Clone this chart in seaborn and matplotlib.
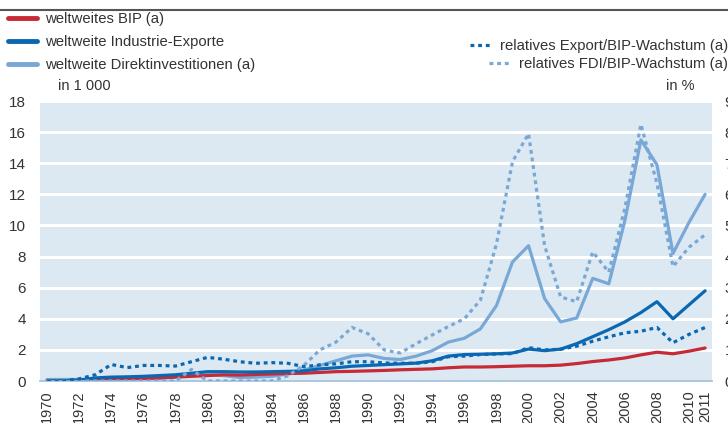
import numpy as np
import pandas as pd
import seaborn as sns
import matplotlib.pyplot as plt
from matplotlib.lines import Line2D

years = list(range(1970, 2012))

# left axis (in 1 000)
bip = [0.0, 0.02, 0.05, 0.1, 0.12, 0.13, 0.16, 0.2, 0.25, 0.3,
       0.35, 0.4, 0.38, 0.42, 0.45, 0.48, 0.5, 0.55, 0.6, 0.62,
       0.65, 0.68, 0.72, 0.75, 0.78, 0.85, 0.9, 0.9, 0.92, 0.95,
       0.98, 0.98, 1.02, 1.12, 1.25, 1.35, 1.48, 1.68, 1.85, 1.75,
       1.92, 2.12]
exporte = [0.0, 0.02, 0.05, 0.2, 0.25, 0.27, 0.3, 0.35, 0.4, 0.5,
           0.6, 0.6, 0.58, 0.58, 0.6, 0.62, 0.65, 0.78, 0.85, 0.95,
           1.0, 1.05, 1.1, 1.15, 1.3, 1.6, 1.7, 1.72, 1.75, 1.8,
           2.05, 1.95, 2.05, 2.4, 2.85, 3.3, 3.8, 4.4, 5.1, 4.0,
           4.9, 5.8]
fdi = [0.1, 0.1, 0.1, 0.12, 0.12, 0.15, 0.15, 0.18, 0.25, 0.38,
       0.4, 0.35, 0.22, 0.25, 0.3, 0.45, 0.7, 1.0, 1.3, 1.6,
       1.68, 1.45, 1.38, 1.6, 1.95, 2.5, 2.75, 3.35, 4.85, 7.65,
       8.7, 5.3, 3.8, 4.05, 6.6, 6.25, 10.3, 15.5, 13.9, 8.2,
       10.2, 12.0]

# right axis (in %)
export_ratio = [0.0, 0.0, 0.07, 0.2, 0.53, 0.43, 0.5, 0.5, 0.48, 0.62,
                0.76, 0.7, 0.62, 0.57, 0.59, 0.57, 0.46, 0.52, 0.55, 0.62,
                0.62, 0.58, 0.57, 0.57, 0.62, 0.78, 0.8, 0.85, 0.87, 0.88,
                1.07, 1.0, 1.02, 1.12, 1.28, 1.42, 1.55, 1.6, 1.72, 1.23,
                1.5, 1.72]
fdi_ratio = [0.0, 0.0, 0.0, 0.0, 0.0, 0.0, 0.0, 0.0, 0.0, 0.37,
             0.0, 0.0, 0.0, 0.0, 0.0, 0.17, 0.5, 1.0, 1.25, 1.72,
             1.52, 1.0, 0.9, 1.2, 1.48, 1.75, 2.0, 2.6, 4.4, 7.05,
             7.95, 4.35, 2.7, 2.55, 4.15, 3.5, 5.55, 8.25, 6.35, 3.68,
             4.3, 4.7]

tick_labels = [str(y) if (y % 2 == 0 or y == 2011) else '' for y in years]

RED = '#c62a35'
BLUE = '#0a68b2'
LIGHT = '#79a8d6'
BG = '#dde9f2'
AXIS = '#9dbcdc'
TEXT = '#333333'
DOT = (0, (1.2, 1.2))

sns.set_style('white')
plt.rcParams['font.family'] = ['Liberation Sans', 'DejaVu Sans']
plt.rcParams['text.color'] = TEXT

fig = plt.figure(figsize=(7.28, 4.23), dpi=100)
ax = fig.add_axes([40 / 728, 42 / 423, 672 / 728, 280 / 423])
ax.set_facecolor(BG)
ax2 = ax.twinx()

sns.lineplot(x=years, y=fdi, ax=ax, color=LIGHT, lw=2.3, legend=False)
sns.lineplot(x=years, y=bip, ax=ax, color=RED, lw=2.3, legend=False)
sns.lineplot(x=years, y=exporte, ax=ax, color=BLUE, lw=2.3, legend=False)
sns.lineplot(x=years, y=fdi_ratio, ax=ax2, color=LIGHT, lw=2.3, linestyle=DOT, legend=False)
sns.lineplot(x=years, y=export_ratio, ax=ax2, color=BLUE, lw=2.3, linestyle=DOT, legend=False)

ax.set_xlim(1969.56, 2011.43)
ax.set_ylim(0, 18)
ax2.set_ylim(0, 9)
ax.set_yticks(range(0, 19, 2))
ax2.set_yticks(range(0, 10))
ax.set_xticks(years)
ax.set_xticklabels(tick_labels)

ax.yaxis.grid(True, color='white', lw=2.2)
ax.set_axisbelow(True)

for a in (ax, ax2):
    for s in ('top', 'left', 'right', 'bottom'):
        a.spines[s].set_visible(False)
ax.spines['bottom'].set_visible(True)
ax.spines['bottom'].set_color(AXIS)
ax.spines['bottom'].set_linewidth(1.2)

ax.tick_params(axis='x', length=5, width=1, color=AXIS, pad=2,
               labelsize=10.5, labelrotation=90, labelcolor=TEXT)
ax.tick_params(axis='y', length=0, pad=10, labelsize=11, labelcolor=TEXT)
ax2.tick_params(axis='y', length=0, pad=9, labelsize=11, labelcolor=TEXT)
ax.set_xlabel('')
ax.set_ylabel('')
ax2.set_ylabel('')

# legends
left_handles = [Line2D([], [], color=RED, lw=3.5),
                Line2D([], [], color=BLUE, lw=3.5),
                Line2D([], [], color=LIGHT, lw=3.5)]
left_labels = ['weltweites BIP (a)', 'weltweite Industrie-Exporte',
               'weltweite Direktinvestitionen (a)']
fig.legend(left_handles, left_labels, loc='upper left',
           bbox_to_anchor=(8 / 728, 1 - 12 / 423), frameon=False,
           fontsize=10.7, borderpad=0, borderaxespad=0, handlelength=1.95,
           handletextpad=0.55, labelspacing=0.6)
fig.legend([Line2D([], [], color=BLUE, lw=2.3, linestyle=DOT)],
           ['relatives Export/BIP-Wachstum (a)'], loc='upper right',
           bbox_to_anchor=(1.0, 1 - 39 / 423), frameon=False, fontsize=10.7,
           borderpad=0, borderaxespad=0, handlelength=1.5, handletextpad=0.5)
fig.legend([Line2D([], [], color=LIGHT, lw=2.3, linestyle=DOT)],
           ['relatives FDI/BIP-Wachstum (a)'], loc='upper right',
           bbox_to_anchor=(1.0, 1 - 57 / 423), frameon=False, fontsize=10.7,
           borderpad=0, borderaxespad=0, handlelength=1.5, handletextpad=0.5)

fig.text(58 / 728, 1 - 86 / 423, 'in 1 000', va='center', fontsize=10.5)
fig.text(695 / 728, 1 - 86 / 423, 'in %', va='center', ha='right', fontsize=10.5)

fig.add_artist(Line2D([0, 1], [1 - 10 / 423, 1 - 10 / 423],
                      transform=fig.transFigure, color='#555555', lw=1.5))

fig.savefig('out.png', dpi=100)
